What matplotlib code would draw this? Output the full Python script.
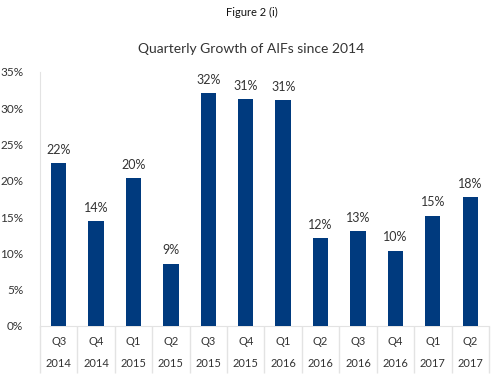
import matplotlib
matplotlib.use("Agg")
import matplotlib.pyplot as plt
import numpy as np

quarters = ["Q3", "Q4", "Q1", "Q2", "Q3", "Q4", "Q1", "Q2", "Q3", "Q4", "Q1", "Q2"]
years = ["2014", "2014", "2015", "2015", "2015", "2015", "2016", "2016", "2016", "2016", "2017", "2017"]
growth = [22.4, 14.4, 20.4, 8.6, 32.1, 31.3, 31.1, 12.1, 13.1, 10.4, 15.2, 17.8]
yticks = [0, 5, 10, 15, 20, 25, 30, 35]

plt.rcParams['font.family'] = ['Lato', 'DejaVu Sans']
txt = '#333333'
grid = '#e3e3e3'
bar_color = '#003A7E'

fig = plt.figure(figsize=(5.03, 3.82), dpi=100)
ax = fig.add_axes([0.0795, 0.1466, 0.8925, 0.665])

x = np.arange(len(growth))
bars = ax.bar(x, growth, width=0.41, color=bar_color, zorder=3)
for xi, v in zip(x, growth):
    ax.text(xi, v + 1.0, f"{round(v)}%", ha='center', va='bottom', fontsize=9, color=txt)

ax.set_xlim(-0.5, len(growth) - 0.5)
ax.set_ylim(0, 35)
ax.set_yticks(yticks)
ax.set_yticklabels([f"{t}%" for t in yticks], fontsize=8.5, color=txt)
ax.set_xticks(x)
ax.set_xticklabels([f"{q}\n{y}" for q, y in zip(quarters, years)], fontsize=8, color=txt)
for lbl in ax.get_xticklabels():
    lbl.set_linespacing(2.2)
ax.set_xticks(np.arange(-0.5, len(growth)), minor=True)
ax.tick_params(axis='x', which='major', length=0, pad=7)
ax.tick_params(axis='x', which='minor', length=34, color=grid, width=1)
ax.tick_params(axis='y', length=0, pad=12)

for s in ['top', 'right']:
    ax.spines[s].set_visible(False)
ax.spines['left'].set_color(grid)
ax.spines['bottom'].set_color(grid)

fig.text(0.5, 0.968, "Figure 2 (i)", ha='center', va='center', fontsize=8, color='#111111')
fig.text(0.5, 0.872, "Quarterly Growth of AIFs since 2014", ha='center', va='center', fontsize=10, color=txt)

fig.savefig("out.png", dpi=100)
